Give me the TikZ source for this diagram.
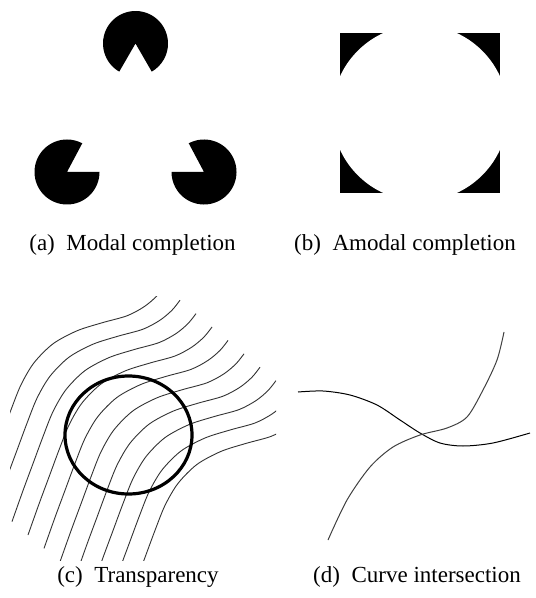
\documentclass[tikz,border=0pt]{standalone}
\usepackage{fontspec}
\setmainfont{Liberation Serif}
\usepackage{tikz}
\usetikzlibrary{calc}

\tikzset{
  caption/.style={font=\fontsize{11.5}{13}\selectfont, inner sep=0pt},
  pacman/.style={fill=black},
  wave/.style={line width=0.45pt, black!80},
  ring/.style={line width=1.6pt},
  thincurve/.style={line width=0.5pt}
}

\begin{document}
\begin{tikzpicture}[x=0.5pt, y=-0.5pt]
  \useasboundingbox (0,0) rectangle (535,598);

  % --- (a) Trojkat Kanizsy ---
  \coordinate (pactop) at (135.5,43.5);
  \coordinate (pacleft) at (67,172);
  \coordinate (pacright) at (204,172);
  \fill[pacman] (pactop) -- ++(120:32.5) arc[start angle=120, end angle=420, radius=32.5] -- cycle;
  \fill[pacman] (pacleft) -- ++(0:32.5) arc[start angle=0, end angle=298, radius=32.5] -- cycle;
  \fill[pacman] (pacright) -- ++(242:32.5) arc[start angle=242, end angle=540, radius=32.5] -- cycle;
  \node[caption] (capa) at (132.5,245) {(a)\enspace Modal completion};

  % --- (b) Rogi kwadratu ---
  \coordinate (sqcenter) at (420,113);
  \foreach \cx/\cy in {340/33, 457/33, 340/150, 457/150}
    \fill (\cx,\cy) rectangle ++(43,43);
  \fill[white] (sqcenter) circle (88);
  \node[caption] (capb) at (405,245) {(b)\enspace Amodal completion};

  % --- (c) Linie i okrag ---
  \begin{scope}
    \clip (10,296) rectangle (276,560);
    \foreach \k in {-3,...,6}
      \draw[wave, shift={(16*\k,13.4*\k)}] plot[smooth] coordinates
        {(28,535) (39,504) (49,477) (59,450) (69,425) (82,403) (101,384)
         (125,371) (150,363) (175,356) (192,347) (204,337) (212,327)};
  \end{scope}
  \draw[ring] (128.5,435) ellipse[x radius=63.5, y radius=59];
  \node[caption] (capc) at (138,577) {(c)\enspace Transparency};

  % --- (d) Przeciecie krzywych ---
  \draw[thincurve] plot[smooth] coordinates
    {(298,392) (323,391) (350,395) (377,405) (400,420) (420,433)
     (440,443) (463,446) (493,443) (530,433)};
  \draw[thincurve, black!75] plot[smooth] coordinates
    {(328,540) (347,500) (370,467) (393,447) (420,435) (447,428)
     (467,417) (483,390) (497,360) (504,332)};
  \node[caption] (capd) at (417,577) {(d)\enspace Curve intersection};
\end{tikzpicture}
\end{document}
